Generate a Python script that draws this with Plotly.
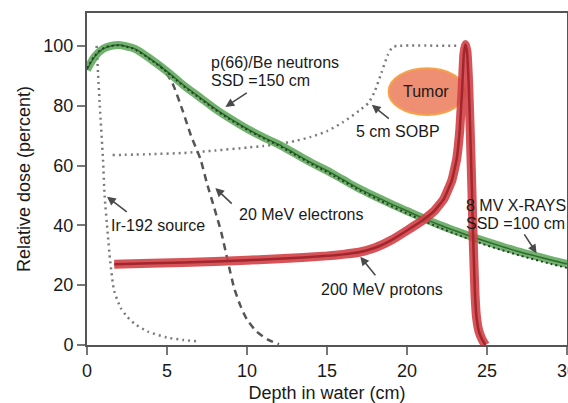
import plotly.graph_objects as go

# ---------------- data ----------------
neutron_x = [0, 0.5, 1, 1.5, 2, 2.5, 3, 4, 5, 6, 7, 8, 9, 10, 11, 12, 13, 14, 15, 16, 17, 18, 19, 20, 21, 22, 23, 24, 25, 26, 27, 28, 29, 30]
neutron_y = [92, 96.5, 99, 100, 100.3, 99.8, 99, 95.5, 91.5, 87, 83, 79, 75.5, 72.3, 69.5, 67, 64, 61, 58.3, 55.3, 52.3, 49.7, 47.2, 44.8, 42.4, 40.2, 38.2, 36.3, 34.5, 32.8, 31.2, 29.8, 28.4, 27.1]

xray_x = [0, 0.5, 1, 1.5, 2, 2.5, 3, 4, 5, 6, 7, 8, 9, 10, 11, 12, 13, 14, 15, 16, 17, 18, 19, 20, 21, 22, 23, 24, 25, 26, 27, 28, 29, 30]
xray_y = [92.5, 96.8, 99.2, 100, 100.2, 99.7, 98.8, 95.3, 91.2, 86.7, 82.7, 78.7, 75.2, 72, 69.2, 66.6, 63.6, 60.6, 57.8, 54.8, 51.8, 49.1, 46.5, 44, 41.6, 39.3, 37.2, 35.2, 33.3, 31.6, 30, 28.5, 27.1, 25.8]

ir_x = [0.6, 0.8, 1.0, 1.1, 1.3, 1.45, 1.7, 2.1, 2.5, 3.0, 3.8, 5.0, 6.0, 7.0]
ir_y = [100, 80, 62, 50, 37, 28, 18, 12.5, 9.5, 7, 4.5, 2.5, 1.7, 1.2]

electron_x = [4.5, 5.3, 6.0, 6.5, 7.1, 7.5, 8.0, 8.4, 8.8, 9.2, 9.6, 10.0, 10.6, 11.3, 12.0]
electron_y = [94, 88, 78, 70, 62, 54, 45, 37.5, 28, 19, 13, 8.5, 4.5, 1.8, 0.3]

sobp_x = [1.6, 4, 6, 8, 10, 11, 12, 13, 14, 15, 16, 17, 17.6, 18, 18.4, 18.8, 19.1, 19.4, 23.3]
sobp_y = [63.5, 63.8, 64.2, 65, 66, 66.5, 67.2, 68.2, 69.6, 71.5, 74.5, 78.3, 81, 85, 91, 97, 99.6, 100, 100]

proton_x = [1.7, 4, 8, 12, 15, 16, 17, 18, 19, 20, 21, 21.7, 22.3, 22.8, 23.1, 23.3, 23.45, 23.55, 23.65, 23.75, 23.85, 23.95, 24.05, 24.15, 24.25, 24.35, 24.5, 24.7, 24.9]
proton_y = [27, 27.3, 27.9, 28.8, 29.8, 30.3, 31, 32.5, 35, 38.3, 41.8, 44.8, 48.8, 55, 62, 72, 86, 97, 100.5, 98, 88, 72, 53, 33, 17, 9, 4.5, 1.8, 0]

x_ticks = [0, 5, 10, 15, 20, 25, 30]
y_ticks = [0, 20, 40, 60, 80, 100]

FONT = "Liberation Sans, Arial, Helvetica, sans-serif"

fig = go.Figure()

# Tumor ellipse
fig.add_shape(type="circle", xref="x", yref="y", x0=18.85, x1=23.65, y0=76.9, y1=92.5,
              fillcolor="#ee8e72", line=dict(color="#f6a24a", width=2), layer="below")

# 5 cm SOBP (dotted)
fig.add_trace(go.Scatter(x=sobp_x, y=sobp_y, mode="lines",
                         line=dict(color="#7a7a7a", width=2.5, dash="2px,4px", shape="spline", smoothing=0.6),
                         hoverinfo="skip", showlegend=False))
# Ir-192 (dotted)
fig.add_trace(go.Scatter(x=ir_x, y=ir_y, mode="lines",
                         line=dict(color="#7a7a7a", width=2.5, dash="2px,4px", shape="spline", smoothing=0.6),
                         hoverinfo="skip", showlegend=False))
# 20 MeV electrons (dashed)
fig.add_trace(go.Scatter(x=electron_x, y=electron_y, mode="lines",
                         line=dict(color="#555555", width=2.5, dash="7px,5px", shape="spline", smoothing=0.6),
                         hoverinfo="skip", showlegend=False))
# Neutrons green band
fig.add_trace(go.Scatter(x=neutron_x, y=neutron_y, mode="lines",
                         line=dict(color="rgba(88,165,85,0.85)", width=8, shape="spline"),
                         hoverinfo="skip", showlegend=False))
fig.add_trace(go.Scatter(x=neutron_x, y=neutron_y, mode="lines",
                         line=dict(color="#2f6a2f", width=1.5, shape="spline"),
                         hoverinfo="skip", showlegend=False))
# 8 MV x-rays dotted
fig.add_trace(go.Scatter(x=xray_x, y=xray_y, mode="lines",
                         line=dict(color="#263f26", width=2, dash="2px,3px", shape="spline"),
                         hoverinfo="skip", showlegend=False))
# Protons red band
fig.add_trace(go.Scatter(x=proton_x, y=proton_y, mode="lines",
                         line=dict(color="rgba(210,65,70,0.9)", width=9, shape="spline", smoothing=0.3),
                         hoverinfo="skip", showlegend=False))
fig.add_trace(go.Scatter(x=proton_x, y=proton_y, mode="lines",
                         line=dict(color="#a3262e", width=2.5, shape="spline", smoothing=0.3),
                         hoverinfo="skip", showlegend=False))

# Text labels
labels = [
    ("p(66)/Be neutrons", 7.6, 94.6),
    ("SSD =150 cm", 7.6, 88.6),
    ("Ir-192 source", 1.35, 40.1),
    ("20 MeV electrons", 9.4, 43.5),
    ("200 MeV protons", 14.5, 18.7),
    ("5 cm SOBP", 16.7, 71.3),
    ("8 MV X-RAYS", 23.55, 46.8),
    ("SSD =100 cm", 23.55, 40.7),
]
for t, x, y in labels:
    fig.add_annotation(x=x, y=y, text=t, showarrow=False, xanchor="left", yanchor="middle",
                       font=dict(family=FONT, size=16, color="#1a1a1a"))
fig.add_annotation(x=21.2, y=84.8, text="Tumor", showarrow=False, xanchor="center", yanchor="middle",
                   font=dict(family=FONT, size=16, color="#1a1a1a"))

# Arrows (tail -> head)
arrows = [
    (10.08, 84.6, 8.65, 79.6),
    (18.96, 75.3, 17.8, 80.3),
    (27.27, 37.5, 28.1, 30.7),
    (2.58, 44.1, 1.25, 49.6),
    (9.14, 46.8, 8.02, 52.5),
    (18.1, 22.8, 17.08, 29.5),
]
for tx, ty, hx, hy in arrows:
    fig.add_annotation(x=hx, y=hy, ax=tx, ay=ty, axref="x", ayref="y", xref="x", yref="y",
                       text="", showarrow=True, arrowhead=2, arrowsize=1.1, arrowwidth=1.6,
                       arrowcolor="#4a4a4a", standoff=0, startstandoff=0)

fig.update_layout(
    width=568, height=403,
    margin=dict(l=87, r=1, t=13, b=58, autoexpand=False),
    paper_bgcolor="white", plot_bgcolor="white",
    font=dict(family=FONT, color="#1a1a1a"),
)
fig.update_xaxes(range=[0, 30], tickvals=x_ticks, ticktext=[str(v) for v in x_ticks], automargin=False,
                 ticklabeloverflow="allow",
                 showgrid=False, zeroline=False, showline=True, linecolor="#555555", linewidth=2,
                 mirror=True, ticks="outside", ticklen=8, tickwidth=1.5, tickcolor="#777777",
                 tickfont=dict(family=FONT, size=18, color="#1a1a1a"),
                 title=dict(text="Depth in water (cm)", font=dict(family=FONT, size=18, color="#1a1a1a"), standoff=8))
fig.update_yaxes(range=[0, 111], tickvals=y_ticks, ticktext=[str(v) for v in y_ticks], automargin=False,
                 ticklabeloverflow="allow",
                 showgrid=False, zeroline=False, showline=True, linecolor="#555555", linewidth=2,
                 mirror=True, ticks="outside", ticklen=8, tickwidth=1.5, tickcolor="#777777",
                 tickfont=dict(family=FONT, size=18, color="#1a1a1a"),
                 title=dict(text="Relative dose (percent)", font=dict(family=FONT, size=18, color="#1a1a1a"), standoff=8))

fig.write_html("out.html", config={"displayModeBar": False},
               post_script="document.body.style.margin='0px';document.body.style.overflow='hidden';")
